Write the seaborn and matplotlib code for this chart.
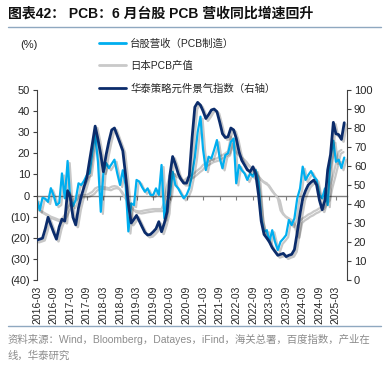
import numpy as np
import pandas as pd
import matplotlib
matplotlib.use('Agg')
import matplotlib.pyplot as plt
import matplotlib.dates as mdates
import matplotlib.patheffects as pe
from matplotlib.ticker import FuncFormatter, MultipleLocator
from matplotlib.lines import Line2D
import seaborn as sns

sns.set_style('white')
plt.rcParams['font.family'] = ['Liberation Sans', 'Noto Sans CJK SC']

# monthly, 2016-03 .. 2025-06
months = pd.date_range('2016-03-01', periods=112, freq='MS')

# 台股营收（PCB制造）同比, %
tw_rev = [-2, -7, -1, -1.5, -3, 3.5, 0, -4.5, -3.5, 10.5,
          -1.3, 16.4, -1.3, -5, -2, 5.8, 5, 7, 9.7, 10.5,
          20.8, 29, 16, -7.7, 10.5, 15.4, 13, 15, 17, 10.5,
          5, 12, 5, -17, -3.7, -4.5, 7.4, 6.6, 4, 1.8,
          3.4, 0.3, 0.3, 3.4, 0.3, 14.5, -10.8, -3, 0.3, 11.3,
          5, 3.4, 1, -1.3, 0.3, 3.4, 10, 18, 30, 37.4,
          22, 12.1, 18.4, 17.6, 21.6, 26.3, 17.6, 12.9, 19.2, 20,
          25.5, 27, 5.8, 14.5, 12, 10.5, 7.4, 10.5, 9, 12.1,
          6.6, -10.8, -17.2, -16.4, -21.9, -16.4, -21.9, -25.8, -21.9, -20.4,
          -18.7, -11.6, -14, -10.8, -1.3, 3.4, 13.7, 7.4, 9.7, 11.6,
          9, 7.4, 0.3, -1.3, 3.4, -4.5, 18, 26, 16, 17,
          13, 18]

# 日本PCB产值同比, %
jp_pcb = [-6, -7, -7.7, -8.5, -9.2, -10, -10.5, -11, -11.6, -11,
          -9, -6, -4, -2, -0.5, 0, 0.2, 0.2, 0.3, 1,
          1.8, 3.4, 4, 4.2, 4, 3.8, 3.5, 4.2, 4.5, 4.2,
          2.7, 0.5, -1.5, -3.7, -5.5, -6.9, -7.3, -7.5, -7.3, -7,
          -6.8, -6.6, -6.4, -6.4, -6.4, -6.4, -3, 5, 9.5, 10.5,
          9.7, 9, 8, 7, 8.2, 9, 9.7, 10.8, 12, 13,
          14.5, 15.3, 16, 16.8, 17.2, 17.6, 18.5, 19.2, 20, 21,
          28, 21.6, 20.5, 19, 18, 16.8, 15, 13.7, 12, 10.5,
          9, 7.4, 6.5, 5.8, 4, 2, 0.5, -1.3, -7, -9,
          -10, -10.8, -11.6, -14, -19, -12, -10.8, -10, -9, -8.4,
          -7.5, -6.9, -6, -5.3, -3, -1.3, 5, 10, 15, 20.8,
          21.6, np.nan]

# 华泰策略元件景气指数（右轴）
idx = [21, 21.5, 22, 27, 33, 29, 25, 21.5, 28, 32,
       31, 47, 44, 33, 29, 38, 44, 49, 54, 63,
       72, 81, 74, 66, 57, 66, 73, 79, 80, 76,
       72, 68, 55, 40, 30, 32, 34, 31, 28, 25,
       23.7, 24, 25.4, 27, 30.7, 25.4, 30, 36, 55, 65,
       61, 56, 53, 51, 51, 55, 75, 91, 93.5, 92,
       89, 85, 87, 89.5, 90, 88.6, 83, 77, 75, 75.4,
       80, 79, 74.6, 67.5, 63, 60.5, 58, 57, 59.6, 56,
       45, 31, 24, 22, 20, 17, 15, 13, 13.5, 14,
       12.3, 13, 13.5, 16, 25, 35, 43, 47, 50, 51.5,
       52.6, 50, 42, 37, 42, 58, 66, 83, 77, 76.5,
       74, 82.8]

labels = ['台股营收（PCB制造）', '日本PCB产值', '华泰策略元件景气指数（右轴）']

df = pd.DataFrame({'month': months, 'tw': tw_rev, 'jp': jp_pcb, 'idx': idx})

LBLUE = '#00AEEF'
GRAY = '#C9C9C9'
NAVY = '#0B2C6B'
AXC = '#404040'

fig = plt.figure(figsize=(3.89, 3.66), dpi=100)
ax = fig.add_axes([0.095, 0.235, 0.797, 0.519])
ax2 = ax.twinx()

sns.lineplot(data=df, x='month', y='jp', ax=ax, color=GRAY, lw=1.6)
sns.lineplot(data=df, x='month', y='tw', ax=ax, color=LBLUE, lw=1.6)
sns.lineplot(data=df, x='month', y='idx', ax=ax2, color=NAVY, lw=2.0)

shadow = [pe.SimpleLineShadow(offset=(1.5, -1.5), shadow_color='k', alpha=0.22), pe.Normal()]
for line in ax.get_lines() + ax2.get_lines():
    line.set_path_effects(shadow)

ax.set_ylim(-40, 50)
ax2.set_ylim(0, 100)
ax.yaxis.set_major_locator(MultipleLocator(10))
ax2.yaxis.set_major_locator(MultipleLocator(10))
ax.yaxis.set_major_formatter(FuncFormatter(lambda v, _: f'({abs(int(round(v)))})' if v < 0 else f'{int(round(v))}'))
ax.set_xlim(months[0], months[-1] + pd.DateOffset(months=1))

ax.set_xlabel('')
ax.set_ylabel('')
ax2.set_ylabel('')

for a in (ax, ax2):
    for s in ('top', 'bottom'):
        a.spines[s].set_visible(False)
ax.spines['right'].set_visible(False)
ax2.spines['left'].set_visible(False)
ax.spines['left'].set_color(AXC)
ax2.spines['right'].set_color(AXC)
ax.spines['left'].set_linewidth(0.8)
ax2.spines['right'].set_linewidth(0.8)

ax.tick_params(axis='y', direction='out', length=3, width=0.8, color=AXC, labelsize=8, pad=2, left=True)
ax2.tick_params(axis='y', direction='out', length=3, width=0.8, color=AXC, labelsize=8, pad=2, right=True)

ax.xaxis.set_major_locator(mdates.MonthLocator(bymonth=[3, 9]))
ax.xaxis.set_major_formatter(mdates.DateFormatter('%Y-%m'))
ax.tick_params(axis='x', length=0, labelsize=7.5, labelrotation=90, pad=4)

# zero line with its own ticks
zero_frac = (0 - (-40)) / (50 - (-40))
zx = ax.secondary_xaxis(zero_frac)
zx.xaxis.set_major_locator(mdates.MonthLocator(bymonth=[3, 9]))
zx.spines['bottom'].set_color('#808080')
zx.spines['bottom'].set_linewidth(1.0)
zx.tick_params(axis='x', direction='out', length=3, width=0.8, color='#808080', labelbottom=False)

handles = [Line2D([], [], color=LBLUE, lw=2), Line2D([], [], color=GRAY, lw=2), Line2D([], [], color=NAVY, lw=2)]
fig.legend(handles, labels, loc='upper left', bbox_to_anchor=(95 / 389, 1 - 34 / 366), frameon=False,
           fontsize=7.5, handlelength=2.6, labelspacing=1.2, handletextpad=0.4, borderaxespad=0)

fig.text(20 / 389, 1 - 45 / 366, '(%)', fontsize=8, va='center', color='#222222')

fig.text(8 / 389, 1 - 14 / 366, '图表42： PCB：6 月台股 PCB 营收同比增速回升', fontsize=10,
         fontweight='bold', va='center', color='#111111')
fig.add_artist(Line2D([8 / 389, 381 / 389], [1 - 27 / 366] * 2, color='#8FA8C0', lw=1.0))
fig.add_artist(Line2D([8 / 389, 381 / 389], [1 - 326 / 366] * 2, color='#8FA8C0', lw=1.0))
fig.text(8 / 389, 1 - 339 / 366, '资料来源：Wind，Bloomberg，Datayes，iFind，海关总署，百度指数，产业在',
         fontsize=7.5, va='center', color='#8C8C8C')
fig.text(8 / 389, 1 - 356 / 366, '线，华泰研究', fontsize=7.5, va='center', color='#8C8C8C')

fig.savefig('out.png', dpi=100)
